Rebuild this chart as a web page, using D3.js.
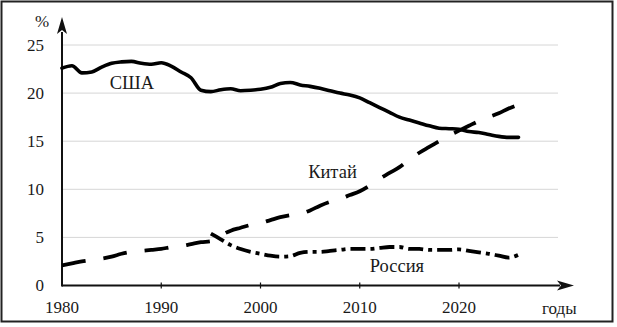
<!DOCTYPE html>
<html>
<head>
<meta charset="utf-8">
<script src="https://cdn.jsdelivr.net/npm/d3@7"></script>
<style>
  html, body { margin: 0; padding: 0; background: #fff; }
  svg { display: block; }
  text { font-family: "Liberation Serif", "Times New Roman", serif; fill: #1a1a1a; }
</style>
</head>
<body>
<svg id="chart" width="617" height="327"></svg>
<script>
const years = [1980,1981,1982,1983,1984,1985,1986,1987,1988,1989,
               1990,1991,1992,1993,1994,1995,1996,1997,1998,1999,
               2000,2001,2002,2003,2004,2005,2006,2007,2008,2009,
               2010,2011,2012,2013,2014,2015,2016,2017,2018,2019,
               2020,2021,2022,2023,2024,2025,2026];

const usa = [22.6,22.85,22.1,22.2,22.7,23.1,23.25,23.3,23.1,23.0,
             23.15,22.8,22.2,21.6,20.3,20.15,20.35,20.45,20.25,20.3,
             20.4,20.6,21.0,21.1,20.85,20.7,20.5,20.25,20.0,19.8,
             19.5,19.0,18.5,18.0,17.5,17.2,16.9,16.6,16.35,16.3,
             16.25,16.0,15.9,15.7,15.5,15.4,15.4];

const china = [2.1,2.3,2.5,2.65,2.8,3.0,3.3,3.5,3.6,3.7,
               3.8,4.0,4.1,4.3,4.5,4.6,5.2,5.7,6.0,6.3,
               6.5,6.8,7.1,7.3,7.45,7.8,8.3,8.7,9.0,9.4,
               9.8,10.4,11.1,11.7,12.3,13.1,13.8,14.4,15.0,15.6,
               16.1,16.6,17.1,17.5,17.9,18.4,18.8];

const russiaYears = [1995,1996,1997,1998,1999,2000,2001,2002,2003,2004,
                     2005,2006,2007,2008,2009,2010,2011,2012,2013,2014,
                     2015,2016,2017,2018,2019,2020,2021,2022,2023,2024,
                     2025,2026];
const russia = [5.4,4.8,4.2,3.8,3.5,3.3,3.1,3.0,3.05,3.4,
                3.5,3.5,3.6,3.7,3.8,3.8,3.8,3.9,4.0,4.0,
                3.8,3.8,3.7,3.7,3.7,3.75,3.6,3.45,3.3,3.1,
                2.9,3.2];

const yTicks = [0,5,10,15,20,25];
const xTicks = [1980,1990,2000,2010,2020];
const gridValues = [5,10,15,20,25];

const labels = [
  {text: "США",    year: 1984.8, value: 20.4},
  {text: "Китай",  year: 2004.8, value: 11.2},
  {text: "Россия", year: 2011.0, value: 1.45}
];
const yUnit = "%";
const xUnit = "годы";

const svg = d3.select("#chart");

// frame
svg.append("rect")
  .attr("x", 1.5).attr("y", 1.5)
  .attr("width", 611).attr("height", 320)
  .attr("fill", "#fff").attr("stroke", "#222").attr("stroke-width", 2);

const x = d3.scaleLinear().domain([1980, 2020]).range([62, 459]);
const y = d3.scaleLinear().domain([0, 25]).range([285.5, 45]);

// gridlines
svg.append("g").selectAll("line").data(gridValues).join("line")
  .attr("x1", x(1980)).attr("x2", 558)
  .attr("y1", d => y(d)).attr("y2", d => y(d))
  .attr("stroke", "#d6d6d6").attr("stroke-width", 1);

// y tick labels
svg.append("g").selectAll("text").data(yTicks).join("text")
  .attr("x", 44).attr("y", d => y(d))
  .attr("dy", "0.35em")
  .attr("text-anchor", "end")
  .attr("font-size", 17)
  .text(d => d);

// x tick labels
svg.append("g").selectAll("text").data(xTicks).join("text")
  .attr("x", d => x(d)).attr("y", 313)
  .attr("text-anchor", "middle")
  .attr("font-size", 17)
  .text(d => d);

// x ticks
svg.append("g").selectAll("line").data(xTicks.slice(1)).join("line")
  .attr("x1", d => x(d)).attr("x2", d => x(d))
  .attr("y1", y(0) - 3).attr("y2", y(0) + 3)
  .attr("stroke", "#111").attr("stroke-width", 1.2);

// axes with arrows
const axisG = svg.append("g");
axisG.append("line")
  .attr("x1", x(1980)).attr("x2", 560)
  .attr("y1", y(0)).attr("y2", y(0))
  .attr("stroke", "#111").attr("stroke-width", 2);
axisG.append("path")
  .attr("d", `M574,${y(0)} L557,${y(0) - 5} L561,${y(0)} L557,${y(0) + 5} Z`)
  .attr("fill", "#111");
axisG.append("line")
  .attr("x1", x(1980)).attr("x2", x(1980))
  .attr("y1", y(0) + 1).attr("y2", 32)
  .attr("stroke", "#111").attr("stroke-width", 2);
axisG.append("path")
  .attr("d", `M${x(1980)},17 L${x(1980) - 5},34 L${x(1980)},30 L${x(1980) + 5},34 Z`)
  .attr("fill", "#111");

svg.append("text").attr("x", 42).attr("y", 27)
  .attr("text-anchor", "middle").attr("font-size", 17).text(yUnit);
svg.append("text").attr("x", 542).attr("y", 314)
  .attr("font-size", 17).text(xUnit);

// lines
const line = d3.line()
  .x(d => x(d[0])).y(d => y(d[1]))
  .curve(d3.curveMonotoneX);

svg.append("path")
  .datum(years.map((yr, i) => [yr, china[i]]))
  .attr("d", line)
  .attr("fill", "none").attr("stroke", "#000")
  .attr("stroke-width", 3.8)
  .attr("stroke-dasharray", "24,18");

svg.append("path")
  .datum(russiaYears.map((yr, i) => [yr, russia[i]]))
  .attr("d", line)
  .attr("fill", "none").attr("stroke", "#000")
  .attr("stroke-width", 3.8)
  .attr("stroke-dasharray", "15,5,4,5");

svg.append("path")
  .datum(years.map((yr, i) => [yr, usa[i]]))
  .attr("d", line)
  .attr("fill", "none").attr("stroke", "#000")
  .attr("stroke-width", 3.6)
  .attr("stroke-linejoin", "round")
  .attr("stroke-linecap", "round");

// series labels
svg.append("g").selectAll("text").data(labels).join("text")
  .attr("x", d => x(d.year)).attr("y", d => y(d.value))
  .attr("font-size", 18.5)
  .text(d => d.text);
</script>
</body>
</html>
